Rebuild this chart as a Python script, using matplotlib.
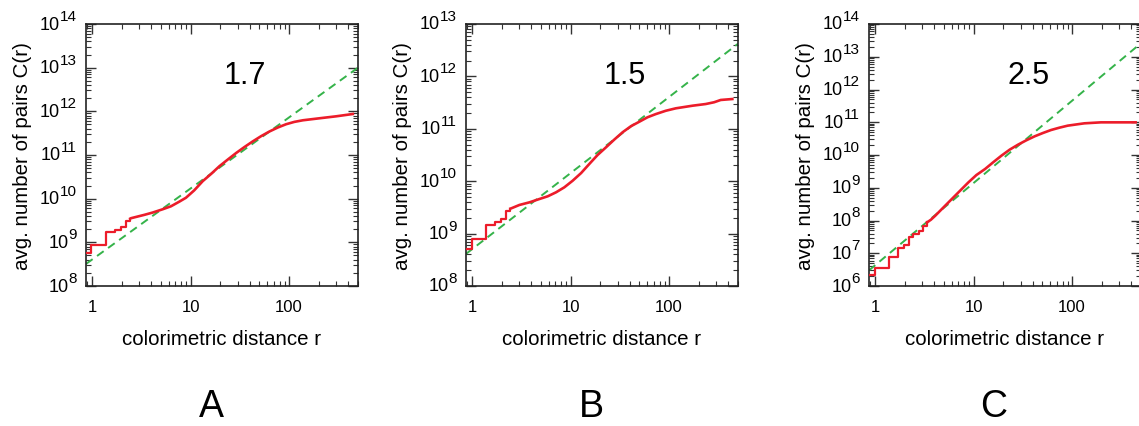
import numpy as np
import matplotlib
matplotlib.use('Agg')
import matplotlib.pyplot as plt
from matplotlib.ticker import LogLocator, FixedLocator, FixedFormatter, NullFormatter
from matplotlib.transforms import blended_transform_factory, offset_copy

plt.rcParams['font.family'] = ['Liberation Sans', 'DejaVu Sans']

RED = '#ec1c2a'
GREEN = '#35b34a'

# panel A: exponent 1.7
a_step_r = [0.87, 0.98, 1.39, 1.71, 1.95, 2.21, 2.45]
a_step_c = [5.7e8, 8.7e8, 1.7e9, 1.9e9, 2.2e9, 3.1e9, 3.5e9]
a_r = [2.45, 2.49, 3.40, 4.13, 5.22, 6.34, 7.70, 8.99, 10.9, 13.3, 16.2, 19.6, 23.8, 29.0, 35.2, 42.8, 52.0, 63.1,
       76.8, 93.3, 113, 138, 203, 300, 443]
a_c = [3.5e9, 3.57e9, 4.26e9, 4.81e9, 5.72e9, 6.70e9, 8.55e9, 1.05e10, 1.55e10, 2.52e10, 3.70e10, 5.52e10, 7.83e10,
       1.11e11, 1.52e11, 2.05e11, 2.70e11, 3.45e11, 4.26e11, 5.07e11, 5.73e11, 6.24e11, 6.93e11, 7.69e11, 8.69e11]
a_fit_r = [0.87, 500]
a_fit_c = [3.2e8, 1.0e13]

# panel B: exponent 1.5
b_step_r = [0.87, 0.99, 1.40, 1.72, 1.96, 2.22, 2.46]
b_step_c = [5.1e8, 7.9e8, 1.48e9, 1.7e9, 1.9e9, 2.75e9, 3.0e9]
b_r = [2.46, 2.50, 3.03, 3.83, 4.83, 5.87, 7.13, 8.65, 10.5, 12.8, 15.5, 18.8, 22.9, 27.7, 33.7, 41.0, 49.7, 60.4,
       73.3, 92.6, 117, 173, 235, 286, 334, 438]
b_c = [3.0e9, 3.03e9, 3.52e9, 3.95e9, 4.57e9, 5.15e9, 6.14e9, 7.64e9, 1.02e10, 1.43e10, 2.13e10, 3.16e10, 4.43e10,
       6.19e10, 8.57e10, 1.12e11, 1.36e11, 1.66e11, 1.91e11, 2.21e11, 2.46e11, 2.76e11, 2.97e11, 3.21e11, 3.55e11, 3.70e11]
b_fit_r = [0.87, 500]
b_fit_c = [4.1e8, 4.2e12]

# panel C: exponent 2.5
c_step_r = [0.87, 0.99, 1.38, 1.71, 1.95, 2.2, 2.43, 2.77, 3.07, 3.37]
c_step_c = [2.2e6, 3.5e6, 7.6e6, 1.45e7, 1.8e7, 3.1e7, 3.9e7, 4.9e7, 6.9e7, 8.7e7]
c_r = [3.37, 3.70, 4.09, 4.96, 6.02, 7.31, 8.87, 10.7, 13.1, 15.8, 19.2, 23.3, 28.3, 34.3, 41.7, 50.6, 61.2, 74.5,
       90.3, 133, 196, 441]
c_c = [8.7e7, 1.06e8, 1.40e8, 2.52e8, 4.53e8, 8.14e8, 1.46e9, 2.45e9, 3.74e9, 5.97e9, 9.55e9, 1.46e10, 2.07e10,
       2.81e10, 3.72e10, 4.70e10, 5.80e10, 6.84e10, 7.87e10, 9.27e10, 9.93e10, 9.93e10]
c_fit_r = [0.87, 500]
c_fit_c = [3.0e6, 2.6e13]

panels = [
    ('A', '1.7', a_step_r, a_step_c, a_r, a_c, a_fit_r, a_fit_c, (1e8, 1e14), range(8, 15)),
    ('B', '1.5', b_step_r, b_step_c, b_r, b_c, b_fit_r, b_fit_c, (1e8, 1e13), range(8, 14)),
    ('C', '2.5', c_step_r, c_step_c, c_r, c_c, c_fit_r, c_fit_c, (1e6, 1e14), range(6, 15)),
]
lefts = [86, 466, 869]

W, H = 1139, 427
fig = plt.figure(figsize=(W / 100, H / 100), dpi=100)

for (letter, expo, sr, sc, r, c, fr, fc, ylim, decades), left in zip(panels, lefts):
    ax = fig.add_axes([left / W, (H - 287) / H, 272 / W, 262 / H])
    ax.set_xscale('log')
    ax.set_yscale('log')
    ax.plot(fr, fc, color=GREEN, lw=1.4, dashes=(4.2, 2.8), zorder=2)
    ax.plot(sr, sc, color=RED, lw=1.6, drawstyle='steps-post', zorder=3)
    ax.plot(r, c, color=RED, lw=1.9, zorder=3)
    ax.set_xlim(0.87, 500)
    ax.set_ylim(*ylim)

    ax.xaxis.set_major_locator(FixedLocator([1, 10, 100]))
    ax.xaxis.set_major_formatter(FixedFormatter(['1', '10', '100']))
    ax.xaxis.set_minor_locator(LogLocator(base=10, subs=np.arange(2, 10), numticks=100))
    ax.yaxis.set_major_locator(FixedLocator([10.0 ** d for d in decades]))
    ax.yaxis.set_major_formatter(NullFormatter())
    ax.yaxis.set_minor_locator(LogLocator(base=10, subs=np.arange(2, 10), numticks=100))

    ax.tick_params(which='both', direction='in', top=True, right=True, color='#333333')
    ax.tick_params(axis='x', labelsize=12, pad=9)
    ax.tick_params(which='major', length=7, width=1.0)
    ax.tick_params(which='minor', length=3.5, width=0.8)
    for s in ax.spines.values():
        s.set_linewidth(1.2)
        s.set_color('#222222')

    # y tick labels written as "10" with a large raised exponent
    trans = blended_transform_factory(ax.transAxes, ax.transData)
    for d in decades:
        sup = ax.text(-0.033, 10.0 ** d, str(d), transform=offset_copy(trans, fig=fig, y=8, units='dots'),
                      ha='right', va='center', fontsize=11)
        ax.annotate('10', xy=(0, 0.5), xycoords=sup, xytext=(0, -8), textcoords='offset pixels',
                    ha='right', va='center', fontsize=13)

    ax.set_xlabel('colorimetric distance r', fontsize=14.8)
    ax.set_ylabel('avg. number of pairs C(r)', fontsize=14.8)
    ax.xaxis.set_label_coords(0.5, -0.165)
    ax.yaxis.set_label_coords(-0.2, 0.5)
    ax.text(0.585, 0.805, expo, transform=ax.transAxes, ha='center', va='center', fontsize=22)
    fig.text((left + 125) / W, 1 - 407 / H, letter, ha='center', va='center', fontsize=27)

fig.savefig('out.png', dpi=100)
